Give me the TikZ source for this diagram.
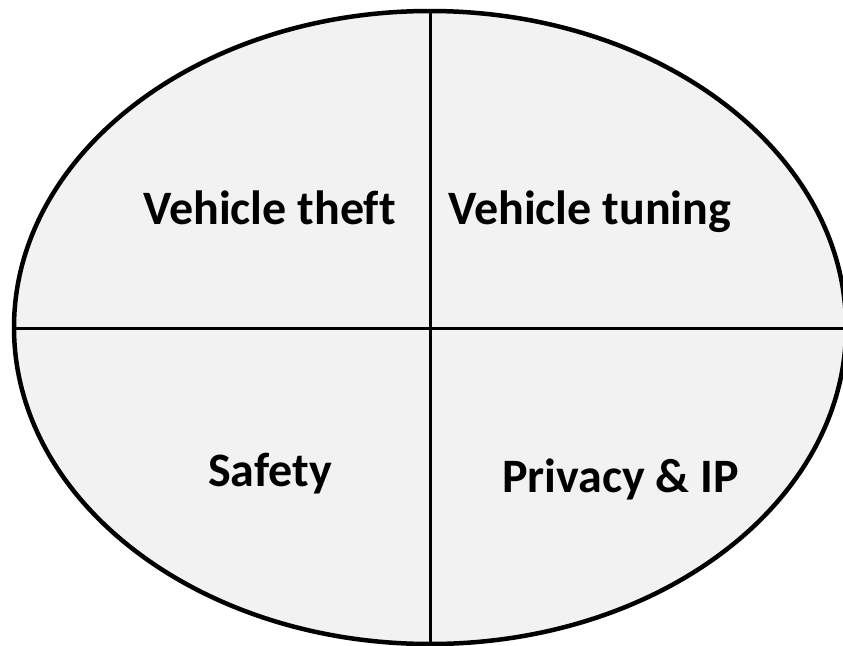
\documentclass[tikz,border=0pt]{standalone}
\usepackage{fontspec}
\setmainfont[Ligatures=NoCommon]{Carlito}
\usetikzlibrary{shapes.geometric}
\begin{document}
\begin{tikzpicture}[x=1pt,y=-1pt,
  outline/.style={draw=black,line width=4.5pt,fill=panelgray},
  divider/.style={draw=black,line width=3pt},
  label/.style={anchor=base west,inner sep=0pt,font=\fontsize{48}{52}\selectfont\bfseries}]
\definecolor{panelgray}{HTML}{F2F2F2}
\useasboundingbox (0,0) rectangle (843,645);
\fill[white] (0,0) rectangle (843,645);
% outer ellipse split into four quadrants
\node[outline,ellipse,minimum width=832pt,minimum height=633pt,inner sep=0pt] (oval) at (430,327.5) {};
\coordinate (vtop) at (430.5,10);
\coordinate (vbot) at (430.5,648);
\coordinate (hleft) at (14,328);
\coordinate (hright) at (846,328);
\draw[divider] (vtop) -- (vbot);
\draw[divider] (hleft) -- (hright);
% quadrant labels
\node[label] (theft) at (143,224) {Vehicle theft};
\node[label] (tuning) at (448,224) {Vehicle tuning};
\node[label] (safety) at (208,486) {Safety};
\node[label] (privacy) at (502,492) {Privacy \& IP};
\end{tikzpicture}
\end{document}
